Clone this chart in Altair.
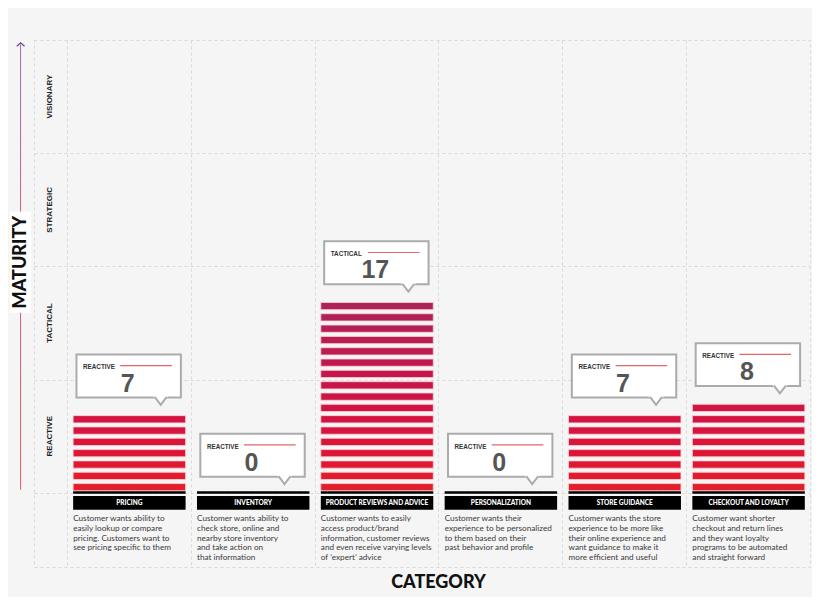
import altair as alt
import pandas as pd

# ---------------- data ----------------
categories = ["PRICING", "INVENTORY", "PRODUCT REVIEWS AND ADVICE",
              "PERSONALIZATION", "STORE GUIDANCE", "CHECKOUT AND LOYALTY"]
counts = [7, 0, 17, 0, 7, 8]
levels = ["REACTIVE", "REACTIVE", "TACTICAL", "REACTIVE", "REACTIVE", "REACTIVE"]
descriptions = [
    ["Customer wants ability to", "easily lookup or compare",
     "pricing. Customers want to", "see pricing specific to them"],
    ["Customer wants ability to", "check store, online and",
     "nearby store inventory", "and take action on", "that information"],
    ["Customer wants to easily", "access product/brand",
     "information, customer reviews", "and even receive varying levels",
     "of \u2018expert\u2019 advice"],
    ["Customer wants their", "experience to be personalized",
     "to them based on their", "past behavior and profile"],
    ["Customer wants the store", "experience to be more like",
     "their online experience and", "want guidance to make it",
     "more efficient and useful"],
    ["Customer want shorter", "checkout and return lines",
     "and they want loyalty", "programs to be automated",
     "and straight forward"],
]
maturity_levels = ["REACTIVE", "TACTICAL", "STRATEGIC", "VISIONARY"]
row_size = 10

# ---------------- tables ----------------
idx = list(range(len(categories)))
cat_df = pd.DataFrame({
    "i": idx,
    "cat": categories,
    "count": counts,
    "level": levels,
    "desc": ["\n".join(d) for d in descriptions],
})
cat_df["bx"] = cat_df["i"] + 0.05
cat_df["bx2"] = cat_df["i"] + 0.958
cat_df["cx"] = cat_df["i"] + 0.504
cat_df["box_x"] = cat_df["i"] + 0.077
cat_df["box_x2"] = cat_df["i"] + 0.92
cat_df["box_y"] = cat_df["count"] + 1.43
cat_df["box_y2"] = cat_df["count"] + 5.22
cat_df["ptr_x"] = cat_df["i"] + 0.757
cat_df["ptr_y"] = cat_df["count"] + 0.78
cat_df["lvl_x"] = cat_df["i"] + 0.13
cat_df["lvl_y"] = cat_df["count"] + 4.08
cat_df["ln_x"] = cat_df["i"] + 0.43
cat_df["ln_x2"] = cat_df["i"] + 0.847
cat_df["ln_y"] = cat_df["count"] + 4.23
cat_df["num_x"] = cat_df["i"] + 0.49
cat_df["num_y"] = cat_df["count"] + 2.64
cat_df["line_y"] = 0.13
cat_df["line_y2"] = -0.09
cat_df["lab_y"] = -0.27
cat_df["lab_y2"] = -1.5
cat_df["lab_t"] = -0.9
cat_df["desc_y"] = -1.95

stripe_rows = []
for i, c in zip(idx, counts):
    for k in range(1, c + 1):
        stripe_rows.append({"i": i, "k": k, "x": i + 0.05, "x2": i + 0.958,
                            "y": k - 0.82, "y2": k - 0.18})
stripe_df = pd.DataFrame(stripe_rows)

row_df = pd.DataFrame({
    "name": maturity_levels,
    "y": [row_size * j + row_size / 2 for j in range(len(maturity_levels))],
    "x": -0.137,
})

deco_df = pd.DataFrame({
    "t": ["MATURITY"],
    "bx": [-0.46], "bx2": [-0.29], "by": [15.9], "by2": [24.85],
    "tx": [-0.375], "ty": [20.38],
    "ax": [-0.3765], "ax2": [-0.3705], "ay": [0.27], "ay2": [39.6],
    "hx": [-0.3735], "hy": [39.75],
})

# ---------------- scales ----------------
XS = alt.Scale(domain=[-0.266, 6], nice=False, zero=False)
YS = alt.Scale(domain=[-6.55, 40], nice=False, zero=False)
GRID = "#d9d9d9"

x_axis = alt.Axis(values=[0, 1, 2, 3, 4, 5], grid=True, gridDash=[3, 3],
                  gridColor=GRID, labels=False, ticks=False, domain=False,
                  title="CATEGORY", titleFont="Lato", titleFontSize=18,
                  titleFontWeight=900, titleColor="#111", titlePadding=6,
                  titleX=404)
y_axis = alt.Axis(values=[0, 10, 20, 30], grid=True, gridDash=[3, 3],
                  gridColor=GRID, labels=False, ticks=False, domain=False,
                  title=None)


def X(f):
    return alt.X(f, type="quantitative", scale=XS, axis=x_axis)


def Y(f):
    return alt.Y(f, type="quantitative", scale=YS, axis=y_axis)


# ---------------- layers ----------------
stripes = alt.Chart(stripe_df).mark_rect(stroke="#f9d3d6", strokeWidth=0.8).encode(
    x=X("x"), x2="x2", y=Y("y"), y2="y2",
    color=alt.Color("k:Q", scale=alt.Scale(domain=[1, 17],
                                           range=["#e41e2a", "#ad2358"]),
                    legend=None),
)

base = alt.Chart(cat_df)

black_line = base.mark_rect(color="#000").encode(
    x=X("bx"), x2="bx2", y=Y("line_y"), y2="line_y2")
label_box = base.mark_rect(color="#000").encode(
    x=X("bx"), x2="bx2", y=Y("lab_y"), y2="lab_y2")
label_text = base.mark_text(color="white", font="Lato", fontSize=6.5,
                            fontWeight=900, baseline="middle").encode(
    x=X("cx"), y=Y("lab_t"), text="cat:N")
desc_text = base.mark_text(align="left", baseline="top", lineBreak="\n",
                           lineHeight=9.8, font="Lato", fontSize=8.2,
                           color="#3a3a3a").encode(
    x=X("bx"), y=Y("desc_y"), text="desc:N")

box = base.mark_rect(fill="white", stroke="#ababab", strokeWidth=2).encode(
    x=X("box_x"), x2="box_x2", y=Y("box_y"), y2="box_y2")
ptr_fill = base.mark_point(shape="M-1.3,-1.5L1.3,-1.5L0,0.2Z", filled=True,
                           color="white", strokeWidth=0, size=144,
                           opacity=1).encode(x=X("ptr_x"), y=Y("ptr_y"))
ptr_line = base.mark_point(shape="M-1,-1.3L0,0L1,-1.3", filled=False,
                           color="#ababab", strokeWidth=2, size=144,
                           opacity=1).encode(x=X("ptr_x"), y=Y("ptr_y"))
lvl_text = base.mark_text(align="left", baseline="middle", font="Liberation Sans",
                          fontSize=6.3, fontWeight="bold", color="#333").encode(
    x=X("lvl_x"), y=Y("lvl_y"), text="level:N")
red_line = base.mark_rule(color="#e0666a", strokeWidth=1.2).encode(
    x=X("ln_x"), x2="ln_x2", y=Y("ln_y"))
num_text = base.mark_text(align="center", baseline="middle",
                          font="Liberation Sans", fontSize=25,
                          fontWeight="bold", color="#555").encode(
    x=X("num_x"), y=Y("num_y"), text="count:Q")

row_text = alt.Chart(row_df).mark_text(angle=270, font="Liberation Sans",
                                       fontSize=8, fontWeight="bold",
                                       color="#222", baseline="middle").encode(
    x=X("x"), y=Y("y"), text="name:N")

deco = alt.Chart(deco_df)
arrow = deco.mark_rect(fill={
    "gradient": "linear", "x1": 0, "y1": 0, "x2": 0, "y2": 1,
    "stops": [{"offset": 0, "color": "#7a3d9a"},
              {"offset": 0.45, "color": "#b02a60"},
              {"offset": 1, "color": "#e0242e"}]}).encode(
    x=X("ax"), x2="ax2", y=Y("ay"), y2="ay2")
arrow_head = deco.mark_point(shape="M-1,0.9L0,0L1,0.9", filled=False,
                             color="#7a3d9a", strokeWidth=1.3, size=60,
                             opacity=1).encode(x=X("hx"), y=Y("hy"))
mat_box = deco.mark_rect(fill="white").encode(
    x=X("bx"), x2="bx2", y=Y("by"), y2="by2")
mat_text = deco.mark_text(angle=270, font="Lato", fontSize=18, fontWeight=900,
                          color="#111", baseline="middle").encode(
    x=X("tx"), y=Y("ty"), text="t:N")

chart = alt.layer(
    stripes, black_line, label_box, label_text, desc_text,
    box, ptr_fill, ptr_line, lvl_text, red_line, num_text,
    row_text, arrow, arrow_head, mat_box, mat_text,
).properties(
    width=776, height=527,
    autosize=alt.AutoSizeParams(type="none"),
    padding={"left": 26, "top": 32, "right": 2, "bottom": 30},
).configure(
    background="#f5f5f5",
).configure_view(
    stroke=GRID, strokeDash=[3, 3], fill="#f5f5f5",
)

chart.save("out.html", embed_options={"renderer": "svg", "actions": False})
